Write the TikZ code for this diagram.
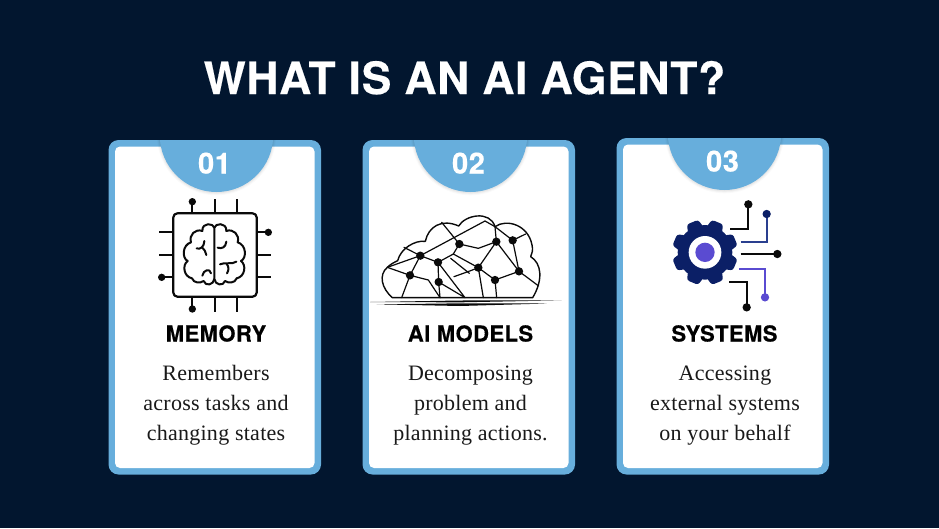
\documentclass[tikz,border=0pt]{standalone}
\usepackage{fontspec}
\setmainfont{Liberation Serif}
\newfontfamily\headfont[LetterSpace=2,FakeBold=0.35]{TeX Gyre Heros}
\newfontfamily\titlefont[LetterSpace=1.5,FakeBold=0.35]{TeX Gyre Heros}
\newfontfamily\bodyfont[LetterSpace=1.2]{Liberation Serif}
\definecolor{bgnavy}{HTML}{02162F}
\definecolor{cardblue}{HTML}{67AEDC}
\definecolor{gearnavy}{HTML}{0B1F66}
\definecolor{linknavy}{HTML}{2A3F8F}
\definecolor{violet}{HTML}{5A4BD1}
\definecolor{inkblack}{HTML}{0A0A0A}
\tikzset{
  titletext/.style={font=\titlefont\bfseries\fontsize{44.5}{48}\selectfont,text=white,inner sep=0,anchor=base},
  numtext/.style={font=\headfont\bfseries\fontsize{29}{30}\selectfont,text=white,inner sep=0,anchor=base},
  headtext/.style={font=\headfont\bfseries\fontsize{22}{24}\selectfont,text=black,inner sep=0,anchor=base},
  bodytext/.style={font=\bodyfont\fontsize{22}{29.8}\selectfont,text=black!90,inner sep=0,align=center,anchor=base},
  ink/.style={draw=inkblack,line width=2.2pt,line cap=round,line join=round},
  brainline/.style={draw=inkblack,line width=2pt,line cap=round,line join=round},
  net/.style={draw=inkblack,line width=1.2pt,line cap=round,line join=round},
  wire/.style={line width=1.8pt},
}
\newcommand{\cardshape}[6]{% left, top, right, bottom, badge centre x, badge bottom
  \fill[cardblue,rounded corners=10] (#1,#2) rectangle (#3,#4);
  \fill[white,rounded corners=5] (#1+6.5,#2+6.5) rectangle (#3-6.5,#4-6.5);
  \begin{scope}
    \clip (#1,#2) rectangle (#3,#4);
    \foreach \r/\o in {59.5/.02,58.5/.03,57.5/.04}{
      \fill[black,opacity=\o] (#5,#6-56.7+0.5) circle (\r);
    }
    \fill[cardblue] (#5,#6-56.7) circle (56.7);
  \end{scope}
}
\begin{document}
\begin{tikzpicture}[x=1pt,y=-1pt]
\useasboundingbox (0,0) rectangle (939,528);
\fill[bgnavy] (0,0) rectangle (939,528);
\node[titletext] (title) at (464.5,94) {WHAT IS AN AI AGENT?};

\cardshape{108.5}{140}{321}{474.5}{216.5}{192}
\cardshape{362.5}{140}{575}{474.5}{470.5}{192}
\cardshape{616.5}{138}{829}{474.5}{724.5}{190}

\node[numtext] (n1) at (214.5,173.5) {01};
\node[numtext] (n2) at (468.5,173.5) {02};
\node[numtext] (n3) at (722.5,171.5) {03};

\node[headtext] (h1) at (216,341.5) {MEMORY};
\node[headtext] (h2) at (470.5,341.5) {AI MODELS};
\node[headtext] (h3) at (724.5,341.5) {SYSTEMS};

\node[bodytext] (b1) at (216,440.2) {Remembers\\across tasks and\\changing states};
\node[bodytext] (b2) at (470.5,440.2) {Decomposing\\problem and\\planning actions.};
\node[bodytext] (b3) at (725,440.2) {Accessing\\external systems\\on your behalf};

% --- chip with brain
\begin{scope}[shift={(165,205)},x=0.33333pt,y=-0.33333pt]
  \draw[ink,rounded corners=4] (25,25) rectangle (275,275);
  \foreach \p in {82,150,217}{
    \draw[ink,line cap=butt] (\p,25) -- (\p,-18);
    \draw[ink,line cap=butt] (\p,275) -- (\p,320);
    \draw[ink,line cap=butt] (25,\p) -- (-18,\p);
    \draw[ink,line cap=butt] (275,\p) -- (318,\p);
  }
  \fill[inkblack] (82,-10) circle (11);
  \fill[inkblack] (82,312) circle (11);
  \fill[inkblack] (-10,217) circle (11);
  \fill[inkblack] (310,82) circle (11);
  % brain
  \draw[brainline]
    (148,68) .. controls (150,55) and (185,50) .. (184,78)
    .. controls (205,70) and (225,90) .. (218,112)
    .. controls (245,120) and (245,160) .. (228,168)
    .. controls (245,180) and (240,215) .. (215,220)
    .. controls (210,235) and (190,235) .. (180,228)
    .. controls (175,245) and (150,240) .. (148,222)
    -- (148,68);
  \draw[brainline]
    (148,68) .. controls (146,55) and (111,50) .. (112,78)
    .. controls (91,70) and (71,90) .. (78,112)
    .. controls (51,120) and (51,160) .. (68,168)
    .. controls (51,180) and (56,215) .. (81,220)
    .. controls (86,235) and (106,235) .. (116,228)
    .. controls (121,245) and (146,240) .. (148,222);
  \draw[brainline] (184,110) .. controls (182,128) and (170,132) .. (158,128);
  \draw[brainline] (165,178) .. controls (180,170) and (200,180) .. (214,170);
  \draw[brainline] (185,177) .. controls (192,185) and (192,195) .. (186,205);
  \draw[brainline] (95,130) .. controls (105,135) and (118,125) .. (118,108);
  \draw[brainline] (112,128) .. controls (118,133) and (122,140) .. (124,150);
  \draw[brainline] (112,212) .. controls (115,195) and (135,188) .. (138,205);
\end{scope}

% --- cloud network
\begin{scope}[shift={(360,130)},x=0.33333pt,y=-0.33333pt]
  \draw[net,line width=1.4pt]
    (97,503) .. controls (65,475) and (55,435) .. (82,412)
    .. controls (92,402) and (103,397) .. (113,392)
    .. controls (122,355) and (165,330) .. (196,334)
    .. controls (205,290) and (245,265) .. (296,288)
    .. controls (315,255) and (390,240) .. (405,290)
    .. controls (440,265) and (505,285) .. (516,345)
    .. controls (520,360) and (516,370) .. (512,380)
    .. controls (545,400) and (550,450) .. (518,503)
    -- cycle;
  % links
  \coordinate (A) at (181,377); \coordinate (B) at (150,436);
  \coordinate (C) at (234,397); \coordinate (D) at (236,456);
  \coordinate (E) at (298,342); \coordinate (F) at (355,413);
  \coordinate (G) at (405,450); \coordinate (H) at (409,335);
  \coordinate (I) at (458,331); \coordinate (J) at (477,424);
  \coordinate (K) at (315,503); \coordinate (L) at (405,290);
  \coordinate (M) at (280,372); \coordinate (P) at (282,440);
  \draw[net] (A) -- (82,412) (A) -- (132,352) (A) -- (375,273) -- (L) -- (H);
  \draw[net] (L) -- (I) (I) -- (497,312);
  \draw[net] (245,277) -- (E) -- (355,355) -- (H);
  \draw[net] (A) -- (C) -- (M) -- (E);
  \draw[net] (M) -- (F);
  \draw[net] (272,385) -- (328,430);
  \draw[net] (C) -- (K) -- (D) -- (C);
  \draw[net] (D) -- (240,503);
  \draw[net] (A) -- (B) -- (82,412);
  \draw[net] (B) -- (125,503);
  \draw[net] (B) -- (205,450) -- (240,503);
  \draw[net] (P) -- (332,422) -- (F);
  \draw[net] (F) -- (H) -- (J) -- (I);
  \draw[net] (F) -- (G) -- (J) -- (536,468);
  \draw[net] (F) -- (370,503);
  \draw[net] (G) -- (410,503);
  \foreach \c in {A,B,C,D,E,F,G,H,I,J}{\fill[inkblack] (\c) circle (12.5);}
  % ground strokes
  \fill[inkblack] (30,516) -- (300,511.5) -- (605,511) -- (300,517) -- cycle;
  \fill[inkblack] (50,523) -- (300,520) -- (560,520.5) -- (300,528) -- cycle;
\end{scope}

% --- gear and wires
\begin{scope}[shift={(665,195)},x=0.33333pt,y=-0.33333pt]
  \coordinate (G0) at (120,172);
  \fill[gearnavy] (G0) circle (82);
  \foreach \a in {22.5,67.5,...,337.5}{
    \fill[gearnavy,rounded corners=2.5pt,rotate around={\a:(G0)}]
      (120-25,172-72) -- (120-18,172-98) -- (120+18,172-98) -- (120+25,172-72) -- cycle;
  }
  \fill[white] (G0) circle (49);
  \fill[violet] (G0) circle (29);
  \draw[wire,draw=inkblack] (195,102) -- (250,102) -- (250,28);
  \fill[inkblack] (250,28) circle (12.5);
  \draw[wire,draw=linknavy] (227,140) -- (305,140) -- (305,57);
  \fill[gearnavy] (305,57) circle (12.5);
  \draw[wire,draw=inkblack] (227,177) -- (337,177);
  \fill[inkblack] (337,177) circle (12.5);
  \draw[wire,draw=violet] (222,223) -- (300,223) -- (300,307);
  \fill[violet] (300,307) circle (12.5);
  \draw[wire,draw=inkblack] (192,262) -- (245,262) -- (245,337);
  \fill[inkblack] (245,337) circle (12.5);
\end{scope}
\end{tikzpicture}
\end{document}
